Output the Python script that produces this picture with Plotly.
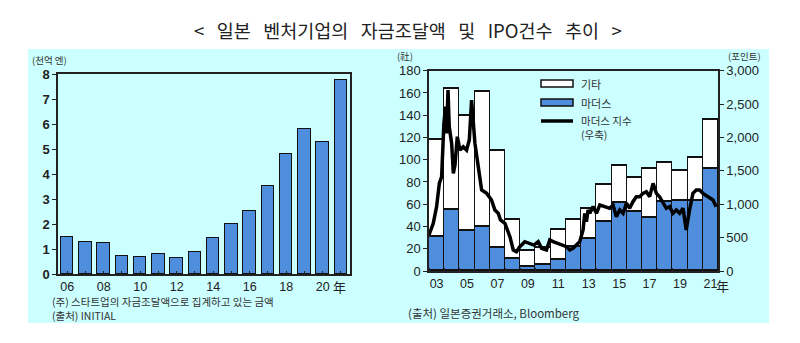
import plotly.graph_objects as go

# ---------------- data ----------------
fund_years = list(range(2006, 2022))
fund_values = [1.48, 1.30, 1.25, 0.74, 0.70, 0.82, 0.64, 0.87, 1.43, 1.99, 2.53, 3.53, 4.82, 5.81, 5.30, 7.76]
fund_tickvals = [2006, 2008, 2010, 2012, 2014, 2016, 2018, 2020]
fund_ticktext = ["06", "08", "10", "12", "14", "16", "18", "20"]

ipo_years = list(range(2003, 2022))
ipo_total = [118, 164, 140, 161, 108, 46, 18, 21, 37, 46, 56, 78, 95, 84, 92, 97, 90, 102, 136]
ipo_mothers = [31, 55, 36, 40, 21, 11, 4, 6, 10, 22, 29, 44, 61, 53, 48, 62, 63, 63, 92]
ipo_ticktext = ["03", "05", "07", "09", "11", "13", "15", "17", "19", "21"]
ipo_tickyears = [2003, 2005, 2007, 2009, 2011, 2013, 2015, 2017, 2019, 2021]

idx_time = [2003.00, 2003.28, 2003.50, 2003.68, 2003.83, 2003.98, 2004.09, 2004.16, 2004.25, 2004.33,
            2004.49, 2004.60, 2004.71, 2004.86, 2005.04, 2005.25, 2005.47, 2005.65, 2005.80, 2006.02,
            2006.24, 2006.46, 2006.79, 2007.11, 2007.33, 2007.55, 2007.70, 2007.99, 2008.32, 2008.54,
            2008.75, 2008.97, 2009.30, 2009.63, 2009.89, 2010.18, 2010.40, 2010.72, 2010.94, 2011.16,
            2011.49, 2011.82, 2012.04, 2012.26, 2012.47, 2012.69, 2012.91, 2013.13, 2013.24, 2013.35,
            2013.46, 2013.57, 2013.79, 2014.01, 2014.23, 2014.55, 2014.88, 2015.10, 2015.32, 2015.54,
            2015.76, 2015.98, 2016.19, 2016.41, 2016.63, 2016.85, 2017.07, 2017.29, 2017.51, 2017.73,
            2017.95, 2018.16, 2018.38, 2018.60, 2018.82, 2019.04, 2019.26, 2019.48, 2019.70, 2019.91,
            2020.13, 2020.35, 2020.57, 2020.79, 2021.01, 2021.34, 2021.67, 2021.88]
idx_value = [539, 714, 963, 1312, 1412, 2211, 2461, 2061, 2710, 2161,
             1911, 1462, 1587, 2011, 1811, 1861, 1811, 1961, 2561, 1911,
             1562, 1213, 1163, 1063, 914, 864, 764, 714, 514, 315,
             290, 364, 439, 404, 389, 439, 339, 315, 464, 439,
             414, 389, 364, 315, 339, 389, 439, 614, 864, 739,
             914, 864, 964, 864, 989, 964, 939, 989, 814, 914,
             864, 1014, 939, 1038, 1113, 1113, 1163, 1188, 1113, 1313,
             1163, 1113, 1014, 939, 964, 864, 914, 864, 939, 614,
             914, 1163, 1213, 1213, 1163, 1113, 1063, 964]

right_ticks = list(range(0, 3001, 500))
left2_ticks = list(range(0, 181, 20))

BLUE = "#4F8EDC"
W, H = 800, 343

def px(x):
    return x / W

def py(y):
    return 1 - y / H

ipo_other = [t - m for t, m in zip(ipo_total, ipo_mothers)]

fig = go.Figure()

fig.add_trace(go.Bar(x=fund_years, y=fund_values, width=0.68,
                     marker=dict(color=BLUE, line=dict(color="#111", width=1.5)),
                     xaxis="x", yaxis="y", showlegend=False))

fig.add_trace(go.Bar(x=ipo_years, y=ipo_mothers, width=1, offset=0,
                     marker=dict(color=BLUE, line=dict(color="#111", width=1.5)),
                     xaxis="x2", yaxis="y2", showlegend=False))
fig.add_trace(go.Bar(x=ipo_years, y=ipo_other, width=1, offset=0,
                     marker=dict(color="white", line=dict(color="#111", width=1.5)),
                     xaxis="x2", yaxis="y2", showlegend=False))
fig.add_trace(go.Scatter(x=idx_time, y=idx_value, mode="lines", line=dict(color="black", width=3.5),
                         xaxis="x2", yaxis="y3", showlegend=False))

xfont = dict(family="Liberation Sans, Arial", size=12.5, color="#222")
yfont = dict(family="Liberation Sans, Arial", size=13, color="#222")
boldfont = dict(family="Liberation Sans, Arial", size=13, color="#222", weight="bold")

fig.update_layout(
    template="none",
    width=W, height=H, margin=dict(l=0, r=0, t=0, b=0, pad=0, autoexpand=False),
    paper_bgcolor="white", plot_bgcolor="white",
    barmode="stack", bargap=0, showlegend=False,
    xaxis=dict(domain=[px(58), px(350)], range=[2005.5, 2021.5], tickvals=fund_tickvals, ticktext=fund_ticktext,
               showgrid=False, zeroline=False, showline=True, linecolor="#222", linewidth=1.5, mirror=True,
               ticks="", tickfont=xfont, anchor="y", automargin=False,
               minor=dict(tickvals=fund_years, ticks="inside", ticklen=3, tickcolor="#222")),
    yaxis=dict(domain=[py(274), py(74)], range=[0, 8], dtick=1, showgrid=False, zeroline=False,
               showline=True, linecolor="#222", linewidth=1.5, mirror=True, ticks="outside", ticklen=4,
               tickcolor="#222", tickfont=boldfont, anchor="x", automargin=False),
    xaxis2=dict(domain=[px(429), px(718)], range=[2003, 2022], tickvals=[y + 0.5 for y in ipo_tickyears],
                ticktext=ipo_ticktext, showgrid=False, zeroline=False, showline=True, linecolor="#222",
                linewidth=1.5, mirror=True, ticks="", tickfont=xfont, anchor="y2", automargin=False,
                minor=dict(tickvals=ipo_years, ticks="inside", ticklen=3, tickcolor="#222")),
    yaxis2=dict(domain=[py(271), py(70.7)], range=[0, 180], tickvals=left2_ticks, showgrid=False, zeroline=False,
                showline=True, linecolor="#222", linewidth=1.5, ticks="outside", ticklen=4, tickcolor="#222",
                tickfont=yfont, anchor="x2", automargin=False),
    yaxis3=dict(domain=[py(271), py(70.7)], range=[0, 3000], tickvals=right_ticks,
                ticktext=[f"{v:,}" for v in right_ticks], overlaying="y2", side="right", showgrid=False,
                zeroline=False, showline=True, linecolor="#222", linewidth=1.5, ticks="outside", ticklen=4,
                tickcolor="#222", tickfont=yfont, anchor="x2", automargin=False),
)

shapes = [
    dict(type="rect", xref="paper", yref="paper", x0=px(28), x1=px(769), y0=py(323), y1=py(49),
         fillcolor="#CCFFFF", line=dict(width=0), layer="below"),
    dict(type="rect", xref="paper", yref="paper", x0=px(541), x1=px(573), y0=py(87), y1=py(80),
         fillcolor="white", line=dict(color="#111", width=1.5)),
    dict(type="rect", xref="paper", yref="paper", x0=px(541), x1=px(573), y0=py(106), y1=py(99),
         fillcolor=BLUE, line=dict(color="#111", width=1.5)),
    dict(type="line", xref="paper", yref="paper", x0=px(541), x1=px(573), y0=py(121), y1=py(121),
         line=dict(color="black", width=3.5)),
]

kfont = "Noto Sans CJK KR"
ann = []
def add_text(x, y, text, size=11, xanchor="left", color="#333"):
    ann.append(dict(xref="paper", yref="paper", x=px(x), y=py(y), text=text, showarrow=False,
                    xanchor=xanchor, yanchor="middle", align="left",
                    font=dict(family=kfont, size=size, color=color)))

sp = "&nbsp;&nbsp; "
title = sp.join(["&lt;", "일본", "벤처기업의", "자금조달액", "및", "IPO건수", "추이", "&gt;"])
add_text(408, 30, title, size=18.5, xanchor="center", color="#222")
add_text(30, 60, "(천억 엔)", size=9.5)
add_text(405, 56, "(社)", size=9.5, xanchor="center")
add_text(744, 55.5, "(포인트)", size=9.5, xanchor="center")
add_text(579, 84, "기타", size=11)
add_text(579, 103, "마더스", size=11)
add_text(579, 127.5, "마더스 지수<br>(우축)", size=10.5)
add_text(331, 286, "年", size=13, color="#222")
add_text(714, 285, "年", size=13, color="#222")
add_text(50, 308, "(주) 스타트업의 자금조달액으로 집계하고 있는 금액<br>(출처) INITIAL", size=10.5)
add_text(406, 313, "(출처) 일본증권거래소, Bloomberg", size=11.5)

fig.update_layout(shapes=shapes, annotations=ann)
fig.write_html("out.html")
